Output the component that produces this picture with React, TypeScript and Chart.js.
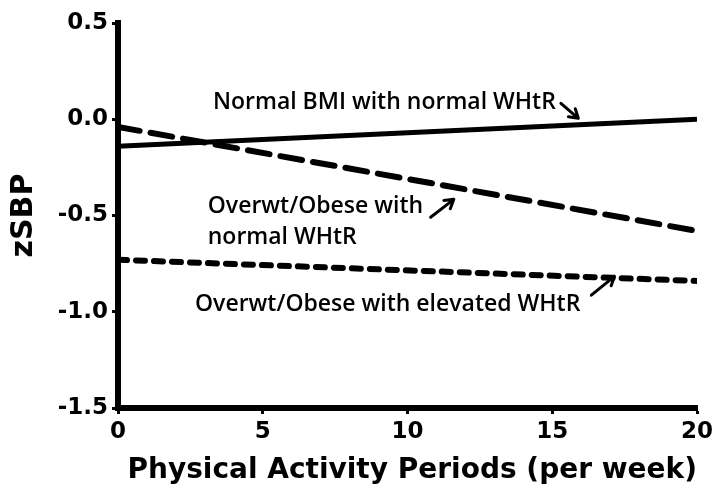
import React, { useEffect, useRef } from "react";
import { Chart, registerables } from "chart.js";

Chart.register(...registerables);

// ---- data ----
const xValues = [0, 20];
const normalBmiNormalWhtr = [-0.14, 0.0];
const overwtNormalWhtr = [-0.04, -0.58];
const overwtElevatedWhtr = [-0.73, -0.84];

const xTitle = "Physical Activity Periods (per week)";
const yTitle = "zSBP";

// annotation labels (data coordinates, baseline of first line)
const labelNormal = ["Normal BMI with normal WHtR"];
const labelOverwtNormal = ["Overwt/Obese with", "normal WHtR"];
const labelOverwtElevated = ["Overwt/Obese with elevated WHtR"];

const annotations = [
  { lines: labelNormal, x: 3.28, y: 0.052, arrowFrom: [15.3, 0.083], arrowTo: [15.9, 0.005] },
  { lines: labelOverwtNormal, x: 3.1, y: -0.488, arrowFrom: [10.8, -0.509], arrowTo: [11.6, -0.416] },
  { lines: labelOverwtElevated, x: 2.66, y: -0.997, arrowFrom: [16.35, -0.914], arrowTo: [17.15, -0.816] },
];

const toPoints = (ys: number[]) => xValues.map((x, i) => ({ x, y: ys[i] }));

const annotationPlugin = {
  id: "annotationsText",
  afterDatasetsDraw(chart: any) {
    const { ctx, scales } = chart;
    const xs = scales.x;
    const ys = scales.y;
    ctx.save();
    ctx.fillStyle = "#000";
    ctx.strokeStyle = "#000";
    ctx.font = "600 23px 'Open Sans'";
    ctx.textAlign = "left";
    ctx.textBaseline = "alphabetic";
    for (const a of annotations) {
      const px = xs.getPixelForValue(a.x);
      const py = ys.getPixelForValue(a.y);
      a.lines.forEach((line, i) => {
        ctx.fillText(line, px, py + i * 31);
      });
      const fx = xs.getPixelForValue(a.arrowFrom[0]);
      const fy = ys.getPixelForValue(a.arrowFrom[1]);
      const tx = xs.getPixelForValue(a.arrowTo[0]);
      const ty = ys.getPixelForValue(a.arrowTo[1]);
      ctx.lineWidth = 3;
      ctx.lineCap = "round";
      ctx.lineJoin = "round";
      ctx.beginPath();
      ctx.moveTo(fx, fy);
      ctx.lineTo(tx, ty);
      const ang = Math.atan2(ty - fy, tx - fx);
      const hl = 10;
      ctx.moveTo(tx - hl * Math.cos(ang - 0.55), ty - hl * Math.sin(ang - 0.55));
      ctx.lineTo(tx, ty);
      ctx.lineTo(tx - hl * Math.cos(ang + 0.55), ty - hl * Math.sin(ang + 0.55));
      ctx.stroke();
    }
    ctx.restore();
  },
};

export default function App() {
  const canvasRef = useRef<HTMLCanvasElement | null>(null);

  useEffect(() => {
    const canvas = canvasRef.current;
    if (!canvas) return;
    const tickFont = { family: "'DejaVu Sans'", size: 23, weight: "bold" as const };
    const chart = new Chart(canvas, {
      type: "line",
      data: {
        datasets: [
          {
            label: "Normal BMI with normal WHtR",
            data: toPoints(normalBmiNormalWhtr),
            borderColor: "#000",
            borderWidth: 5,
            pointRadius: 0,
            borderCapStyle: "butt",
          },
          {
            label: "Overwt/Obese with normal WHtR",
            data: toPoints(overwtNormalWhtr),
            borderColor: "#000",
            borderWidth: 6,
            pointRadius: 0,
            borderDash: [22, 11],
            borderCapStyle: "round",
          },
          {
            label: "Overwt/Obese with elevated WHtR",
            data: toPoints(overwtElevatedWhtr),
            borderColor: "#000",
            borderWidth: 6,
            pointRadius: 0,
            borderDash: [9, 9],
            borderCapStyle: "round",
          },
        ],
      },
      options: {
        responsive: false,
        animation: false,
        devicePixelRatio: 1,
        layout: { padding: { top: 23, right: 15, left: 0, bottom: 0 } },
        plugins: {
          legend: { display: false },
          tooltip: { enabled: false },
        },
        scales: {
          x: {
            type: "linear",
            min: 0,
            max: 20,
            ticks: {
              stepSize: 5,
              color: "#000",
              font: tickFont,
              padding: 4,
              maxRotation: 0,
              callback: (v: any) => String(v),
            },
            grid: { drawOnChartArea: false, drawTicks: true, tickLength: 6, tickWidth: 3, color: "#000" },
            border: { display: true, width: 6, color: "#000" },
            title: {
              display: true,
              text: xTitle,
              color: "#000",
              align: "end",
              font: { family: "'DejaVu Sans'", size: 28, weight: "bold" },
              padding: { top: 0, bottom: 2 },
            },
            afterFit: (scale: any) => {
              scale.height = 82;
              scale.paddingRight = 15;
              scale.paddingLeft = 0;
            },
          },
          y: {
            type: "linear",
            min: -1.5,
            max: 0.5,
            ticks: {
              stepSize: 0.5,
              color: "#000",
              font: tickFont,
              padding: 4,
              callback: (v: any) => Number(v).toFixed(1),
            },
            grid: { drawOnChartArea: false, drawTicks: true, tickLength: 6, tickWidth: 3, color: "#000" },
            border: { display: true, width: 6, color: "#000" },
            title: {
              display: true,
              text: yTitle,
              color: "#000",
              font: { family: "'DejaVu Sans'", size: 30, weight: "bold" },
              padding: { top: 6, bottom: 0 },
            },
            afterFit: (scale: any) => {
              scale.width = 118;
            },
          },
        },
      },
      plugins: [annotationPlugin],
    });
    return () => chart.destroy();
  }, []);

  return (
    <div style={{ position: "absolute", left: 0, top: 0, width: 712, height: 490, background: "#fff" }}>
      <canvas ref={canvasRef} width={712} height={490} style={{ display: "block" }} />
    </div>
  );
}
